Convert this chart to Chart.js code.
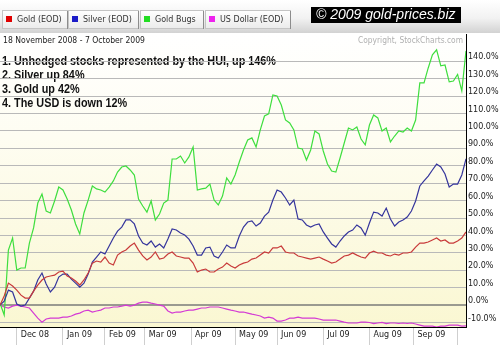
<!DOCTYPE html>
<html>
<head>
<meta charset="utf-8">
<title>Gold, Silver, Gold Bugs and the US Dollar</title>
<script src="https://cdn.jsdelivr.net/npm/chart.js@4.4.0/dist/chart.umd.min.js"></script>
<style>
  body { margin: 0; background: #fff; }
  #wrap { width: 500px; height: 351px; }
</style>
</head>
<body>
<div id="wrap"><canvas id="myChart" width="500" height="351"></canvas></div>
<script>
// % change since 18 Nov 2008, read every second trading day
const gold = [0, 5.2, 12.6, 10.9, 8.6, 5.7, 4.0, 4.0, 8.0, 11.5,
  14.4, 16.1, 16.7, 17.2, 19.0, 19.5, 16.7, 15.5, 13.8, 11.5,
  14.4, 18.4, 24.1, 25.3, 24.7, 27.6, 24.1, 23.0, 28.7, 30.5,
  31.6, 33.9, 35.6, 31.6, 28.2, 25.9, 27.6, 30.5, 26.4, 27.0,
  29.3, 30.5, 28.2, 27.6, 27.0, 27.0, 24.1, 19.0, 20.1, 20.7,
  19.0, 19.0, 20.7, 21.8, 24.1, 22.4, 21.3, 23.0, 24.1, 24.7,
  26.4, 27.0, 28.7, 30.5, 29.9, 32.8, 32.8, 33.9, 30.5, 29.9,
  29.9, 28.2, 27.6, 27.0, 26.4, 27.0, 27.6, 26.4, 25.3, 24.1,
  24.7, 26.4, 28.2, 28.7, 29.9, 28.7, 27.6, 27.0, 29.9, 31.0,
  29.9, 29.9, 28.7, 28.2, 29.3, 28.7, 29.9, 29.9, 30.5, 33.3,
  35.6, 35.6, 36.2, 37.4, 38.5, 36.8, 37.4, 35.6, 35.6, 36.8,
  38.5, 42];

const silver = [0, 2.3, 8.6, 7.5, 0.6, -0.6, 0, 4.0, 8.0, 14.4,
  18.4, 12.1, 7.5, 10.3, 16.1, 17.8, 17.8, 14.9, 12.6, 10.3,
  12.6, 17.8, 24.7, 27.6, 30.5, 29.3, 33.9, 38.5, 42.5, 44.8,
  48.9, 48.9, 46.6, 39.7, 35.6, 34.5, 36.8, 33.3, 35.1, 32.8,
  37.9, 43.7, 43.1, 41.4, 40.2, 37.9, 33.9, 28.7, 28.7, 32.8,
  33.3, 28.2, 27.0, 30.5, 34.5, 32.8, 32.8, 39.7, 44.8, 47.7,
  48.3, 45.4, 47.1, 51.1, 53.4, 60.3, 66.1, 64.9, 61.5, 57.5,
  60.3, 49.4, 48.9, 46.0, 44.8, 46.0, 46.6, 42.0, 38.5, 35.1,
  33.3, 36.8, 39.7, 42.0, 43.1, 46.0, 44.3, 40.2, 47.1, 53.4,
  52.9, 51.1, 55.7, 49.4, 45.4, 47.7, 48.9, 50.6, 54.0, 59.8,
  68.4, 71.3, 74.1, 77.6, 81.0, 79.3, 75.3, 67.8, 69.5, 69.5,
  74.7, 84];

const goldBugs = [1.1, -5.7, 31.6, 38.5, 20.1, 21.3, 21.3, 35.6, 44.3, 58.6,
  63.8, 54.0, 52.9, 59.8, 67.8, 66.1, 60.9, 54.6, 46.6, 40.8,
  52.9, 60.3, 68.4, 66.7, 66.1, 64.9, 67.8, 71.3, 76.4, 79.3,
  79.9, 77.6, 74.7, 60.9, 56.9, 53.4, 59.8, 48.9, 52.3, 58.6,
  60.3, 83.9, 83.9, 85.6, 81.6, 85.1, 90.8, 66.1, 66.7, 67.2,
  69.5, 60.3, 57.5, 62.6, 73.0, 69.5, 74.7, 82.2, 89.1, 94.8,
  96.0, 90.8, 100.6, 108.6, 109.8, 120.7, 120.1, 114.9, 106.3, 104.6,
  100.6, 90.2, 89.7, 83.3, 89.1, 100.0, 98.3, 88.5, 81.0, 77.0,
  76.4, 84.5, 93.1, 101.7, 100.6, 102.3, 95.4, 92.0, 103.4, 109.2,
  107.5, 100.0, 101.7, 93.7, 97.1, 100.0, 99.4, 101.7, 100.0, 106.3,
  127.6, 127.6, 136.2, 143.7, 146.6, 137.4, 137.9, 128.2, 128.7, 132.5,
  123, 146];

const usDollar = [0, -1.1, -1.7, -0.6, 0, -0.6, -1.1, -1.7, -4.6, -7.5,
  -9.8, -8.0, -7.5, -7.5, -7.5, -6.9, -6.9, -6.3, -5.2, -4.6,
  -3.4, -2.9, -4.0, -3.4, -2.9, -1.7, -1.7, -1.1, -1.1, -0.6,
  0, -0.6, 0, 1.1, 1.7, 1.7, 1.1, 0.6, 0, -0.6,
  -3.4, -4.6, -4.0, -4.0, -3.4, -2.9, -2.9, -2.3, -1.7, -1.7,
  -1.1, -1.1, -1.1, -1.7, -2.3, -2.9, -3.4, -4.0, -4.0, -4.6,
  -5.2, -5.7, -6.3, -7.5, -6.9, -7.5, -9.2, -9.2, -8.6, -7.5,
  -7.5, -6.9, -7.5, -7.5, -7.5, -7.5, -8.0, -8.6, -8.6, -8.6,
  -8.6, -9.2, -9.8, -10.3, -10.3, -10.3, -9.8, -9.8, -10.0, -10.6,
  -10.3, -10.0, -10.6, -10.3, -10.3, -10.6, -10.3, -10.6, -10.3, -10.9,
  -11.5, -12.1, -12.1, -12.1, -12.6, -12.1, -12.1, -11.5, -11.5, -11.5,
  -12.1, -12];

const seriesNames = ["Gold (EOD)", "Silver (EOD)", "Gold Bugs", "US Dollar (EOD)"];
const seriesColors = ["#c83a3a", "#35359c", "#3ede3e", "#d43ad4"];
const legendColors = ["#e00000", "#1c1cc8", "#22dd22", "#ee22ee"];

// x axis = trading days since 18 Nov 2008, month ticks on the first trading day
const monthDays = [8, 30, 50, 69, 91, 112, 132, 154, 176, 197, 218];
const monthLabels = ["Dec 08", "Jan 09", "Feb 09", "Mar 09", "Apr 09", "May 09",
  "Jun 09", "Jul 09", "Aug 09", "Sep 09", ""];
const pctTicks = [-10, 0, 10, 20, 30, 40, 50, 60, 70, 80, 90, 100, 110, 120, 130, 140];

const dateRange = "18 November 2008 - 7 October 2009";
const notes = [
  "1. Unhedged stocks represented by the HUI, up 146%",
  "2. Silver up 84%",
  "3. Gold up 42%",
  "4. The USD is down 12%"
];

const tradingDay = gold.map((v, i) => i * 2);
const toPoints = (arr) => arr.map((v, i) => ({ x: tradingDay[i], y: v }));

const backdrop = {
  id: "backdrop",
  beforeDraw(chart) {
    const ctx = chart.ctx;
    const a = chart.chartArea;
    ctx.save();
    // grey strip behind the tabs
    let g = ctx.createLinearGradient(0, 0, 0, 33);
    g.addColorStop(0, "#ffffff");
    g.addColorStop(0.55, "#f2f2f2");
    g.addColorStop(1, "#d2d2d2");
    ctx.fillStyle = g;
    ctx.fillRect(0, 0, 500, 33);

    // tabs
    const tabX = [2, 68, 140, 205];
    const tabW = [65, 70, 63, 85];
    ctx.font = "8px 'DejaVu Sans'";
    ctx.textBaseline = "middle";
    seriesNames.forEach((name, i) => {
      g = ctx.createLinearGradient(0, 10, 0, 28);
      g.addColorStop(0, "#ffffff");
      g.addColorStop(1, "#ececec");
      ctx.fillStyle = g;
      ctx.fillRect(tabX[i], 10, tabW[i], 18);
      ctx.strokeStyle = "#c4c4c4";
      ctx.lineWidth = 1;
      ctx.strokeRect(tabX[i] + 0.5, 10.5, tabW[i], 18);
      ctx.strokeStyle = "#8c8c8c";
      ctx.beginPath();
      ctx.moveTo(tabX[i] + tabW[i] + 0.5, 11);
      ctx.lineTo(tabX[i] + tabW[i] + 0.5, 29);
      ctx.stroke();
      ctx.fillStyle = legendColors[i];
      ctx.fillRect(tabX[i] + 4, 16, 6, 6);
      ctx.fillStyle = "#333";
      ctx.fillText(name, tabX[i] + 15, 20);
    });

    // copyright box
    ctx.fillStyle = "#000";
    ctx.fillRect(311, 7, 150, 16);
    ctx.fillStyle = "#fff";
    ctx.font = "italic 14px 'Liberation Sans'";
    ctx.fillText("\u00a9 2009 gold-prices.biz", 316, 15.5, 141);

    // plot background
    g = ctx.createLinearGradient(0, a.top, 0, a.bottom);
    g.addColorStop(0, "#ffffff");
    g.addColorStop(0.35, "#fefdf2");
    g.addColorStop(1, "#faf7d2");
    ctx.fillStyle = g;
    ctx.fillRect(a.left, a.top, a.right - a.left, a.bottom - a.top);

    ctx.font = "8px 'DejaVu Sans'";
    ctx.fillStyle = "#222";
    ctx.fillText(dateRange, 3, 41, 142);
    ctx.fillStyle = "#b0b0b0";
    ctx.fillText("Copyright, StockCharts.com", 358, 41, 105);

    // the notes sit under the grid lines
    ctx.font = "bold 13px 'Liberation Sans'";
    ctx.textBaseline = "alphabetic";
    ctx.fillStyle = "#111";
    const sx = 274 / ctx.measureText(notes[0]).width;
    notes.forEach((t, i) => {
      ctx.save();
      ctx.translate(2, 65 + i * 14);
      ctx.scale(sx, 1);
      ctx.fillText(t, 0, 0);
      ctx.restore();
    });
    ctx.restore();
  }
};

const ctx = document.querySelector("#myChart").getContext("2d");

new Chart(ctx, {
  type: "line",
  data: {
    datasets: [gold, silver, goldBugs, usDollar].map((arr, i) => ({
      label: seriesNames[i],
      data: toPoints(arr),
      borderColor: seriesColors[i],
      borderWidth: 1.2,
      pointRadius: 0,
      tension: 0,
      fill: false
    }))
  },
  options: {
    responsive: false,
    animation: false,
    devicePixelRatio: 1,
    layout: { padding: { top: 34, left: 0, right: 0, bottom: 0 } },
    plugins: { legend: { display: false }, tooltip: { enabled: false } },
    scales: {
      x: {
        type: "linear",
        min: 0,
        max: 222,
        afterBuildTicks: (scale) => { scale.ticks = monthDays.map((d) => ({ value: d })); },
        afterFit: (scale) => { scale.height = 24; },
        border: { color: "#000", width: 1 },
        grid: { drawOnChartArea: false, drawTicks: true, tickLength: 18, color: "#cfcfcf" },
        ticks: {
          autoSkip: false,
          maxRotation: 0,
          align: "start",
          labelOffset: 4,
          padding: -15,
          color: "#222",
          font: { family: "DejaVu Sans", size: 8 },
          callback: (v, i) => monthLabels[i]
        }
      },
      y: {
        position: "right",
        min: -12.6,
        max: 155.7,
        afterBuildTicks: (scale) => { scale.ticks = pctTicks.map((v) => ({ value: v })); },
        afterFit: (scale) => { scale.width = 34; },
        border: { color: "#000", width: 1 },
        grid: {
          drawTicks: false,
          color: (c) => (c.tick && c.tick.value === 0 ? "#9a9a90" : "#b9b9b9"),
          lineWidth: (c) => (c.tick && c.tick.value === 0 ? 2 : 1)
        },
        ticks: {
          padding: 2,
          labelOffset: -4,
          color: "#222",
          font: { family: "DejaVu Sans", size: 8 },
          callback: (v) => v.toFixed(1) + "%"
        }
      }
    }
  },
  plugins: [backdrop]
});
</script>
</body>
</html>
